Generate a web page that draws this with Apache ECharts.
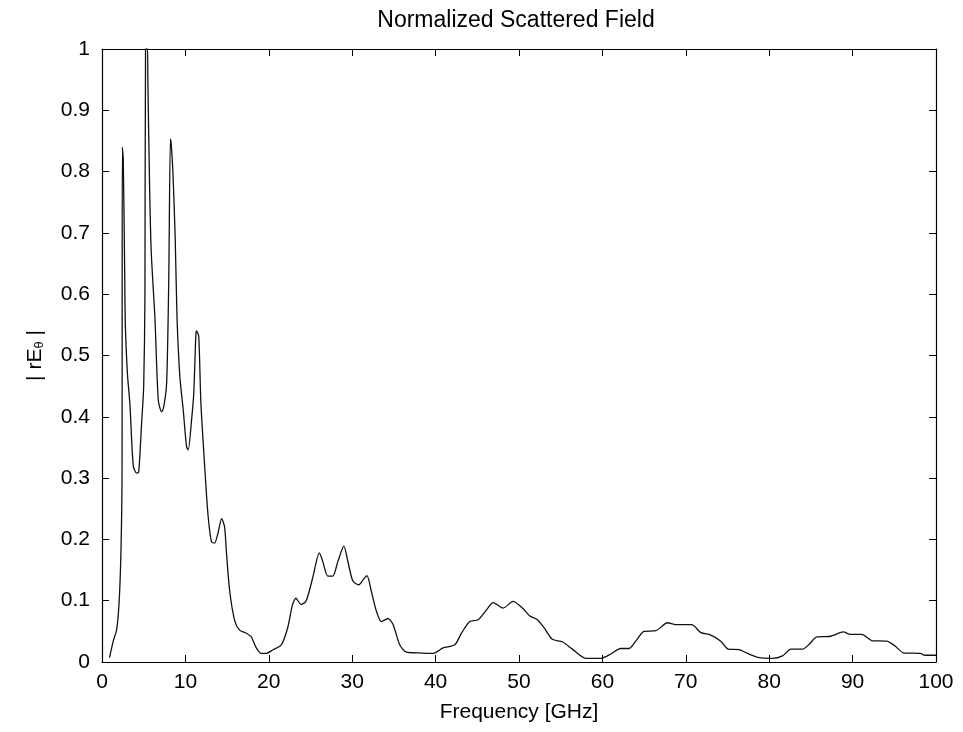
<!DOCTYPE html>
<html>
<head>
<meta charset="utf-8">
<script src="https://cdn.jsdelivr.net/npm/echarts@6/dist/echarts.min.js"></script>
<style>
html,body{margin:0;padding:0;background:#fff;}
#chart{width:963px;height:732px;}
</style>
</head>
<body>
<div id="chart"></div>
<script>
// Frequency [GHz]
var freq = [0.9,1.35,1.76,2.07,2.28,2.4,2.44,2.55,2.7,2.8,3.05,3.35,3.75,4.15,4.4,4.75,5.0,5.15,5.22,5.45,5.5,5.7,5.9,6.35,6.75,7.15,7.4,7.75,8.0,8.2,8.3,8.5,8.78,9.0,9.34,9.74,10.14,10.34,10.74,11.0,11.26,11.35,11.6,11.86,12.34,12.73,13.13,13.5,13.9,14.35,14.7,14.9,15.3,15.9,16.5,17.3,17.9,18.5,19.1,19.7,20.5,21.5,22.25,22.85,23.25,23.85,24.46,25.26,26.06,26.47,27.07,27.67,28.28,29.0,29.48,30.08,30.8,31.3,31.77,32.3,32.9,33.5,34.3,34.9,35.7,36.5,37.7,39.7,40.9,42.3,43.1,44.1,45.1,46.1,46.9,48.1,49.3,50.4,51.3,52.1,53.0,54.0,55.2,56.4,58.0,59.8,61.0,62.2,63.2,64.0,65.0,66.4,67.8,68.8,70.7,71.8,73.0,74.2,75.1,76.4,77.4,78.8,80.4,81.6,82.6,84.0,84.8,85.7,87.35,88.9,89.7,91.1,92.3,94.1,95.1,96.1,98.1,98.7,100];
// |rE_theta| normalized
var field = [0.007,0.034,0.053,0.102,0.184,0.293,0.84,0.82,0.66,0.55,0.47,0.42,0.32,0.308,0.31,0.39,0.45,0.6,1.0,1.0,0.95,0.78,0.67,0.56,0.427,0.408,0.416,0.455,0.62,0.853,0.845,0.80,0.69,0.56,0.465,0.411,0.351,0.346,0.395,0.438,0.536,0.54,0.531,0.422,0.313,0.237,0.196,0.194,0.21,0.234,0.22,0.183,0.117,0.068,0.052,0.047,0.041,0.023,0.014,0.014,0.02,0.028,0.055,0.094,0.104,0.094,0.099,0.137,0.178,0.164,0.14,0.14,0.164,0.189,0.164,0.132,0.126,0.134,0.141,0.115,0.083,0.066,0.071,0.061,0.028,0.016,0.015,0.014,0.023,0.028,0.047,0.066,0.069,0.085,0.097,0.088,0.099,0.088,0.075,0.07,0.056,0.037,0.033,0.021,0.006,0.006,0.013,0.022,0.022,0.034,0.05,0.051,0.064,0.061,0.061,0.048,0.044,0.034,0.021,0.02,0.014,0.007,0.006,0.01,0.021,0.021,0.029,0.041,0.042,0.049,0.045,0.045,0.035,0.034,0.026,0.015,0.014,0.011,0.011];
var xTicks = [0,10,20,30,40,50,60,70,80,90,100];
var yTicks = [0,0.1,0.2,0.3,0.4,0.5,0.6,0.7,0.8,0.9,1];

var pts = freq.map(function(f,i){return [f, field[i]];});
var FONT = '"Liberation Sans", Arial, sans-serif';
var chart = echarts.init(document.getElementById('chart'), null, {renderer:'canvas'});
var baseX = {
  type:'value', min:0, max:100, interval:10,
  axisLine:{show:true, onZero:false, lineStyle:{color:'#000', width:1.2}},
  axisTick:{show:true, inside:true, length:7, lineStyle:{color:'#000'}},
  splitLine:{show:false}
};
var baseY = {
  type:'value', min:0, max:1, interval:0.1,
  axisLine:{show:true, onZero:false, lineStyle:{color:'#000', width:1.2}},
  axisTick:{show:true, inside:true, length:7, lineStyle:{color:'#000'}},
  splitLine:{show:false}
};
chart.setOption({
  backgroundColor:'#fff',
  animation:false,
  title:{text:'Normalized Scattered Field', left:511, textAlign:'center', top:4,
    textStyle:{fontFamily:FONT, fontSize:23, fontWeight:'normal', color:'#000'}},
  grid:{left:102, right:27, top:49, bottom:70},
  xAxis:[
    Object.assign({}, baseX, {position:'bottom',
      name:'Frequency [GHz]', nameLocation:'middle', nameGap:40,
      nameTextStyle:{fontFamily:FONT, fontSize:21, color:'#000'},
      axisLabel:{fontFamily:FONT, fontSize:21, color:'#000', margin:10,
        formatter:function(v){return xTicks.indexOf(v)>=0 ? String(v) : '';}}}),
    Object.assign({}, baseX, {position:'top', axisLabel:{show:false}})
  ],
  yAxis:[
    Object.assign({}, baseY, {position:'left',
      name:'{a|| rE}{s|θ}{a| |}', nameLocation:'middle', nameGap:56, nameRotate:90,
      nameTextStyle:{fontFamily:FONT, fontSize:21, color:'#000',
        rich:{a:{fontFamily:FONT, fontSize:21, color:'#000'},
              s:{fontFamily:FONT, fontSize:13, color:'#000', verticalAlign:'bottom', padding:[8,0,0,0]}}},
      axisLabel:{fontFamily:FONT, fontSize:21, color:'#000', margin:12,
        formatter:function(v){var r=Math.round(v*10)/10; return String(r);}}}),
    Object.assign({}, baseY, {position:'right', axisLabel:{show:false}})
  ],
  series:[{
    type:'line', data:pts, xAxisIndex:0, yAxisIndex:0,
    showSymbol:false, smooth:0.25,
    lineStyle:{color:'#111', width:1.3},
    clip:true
  }]
});
</script>
</body>
</html>
